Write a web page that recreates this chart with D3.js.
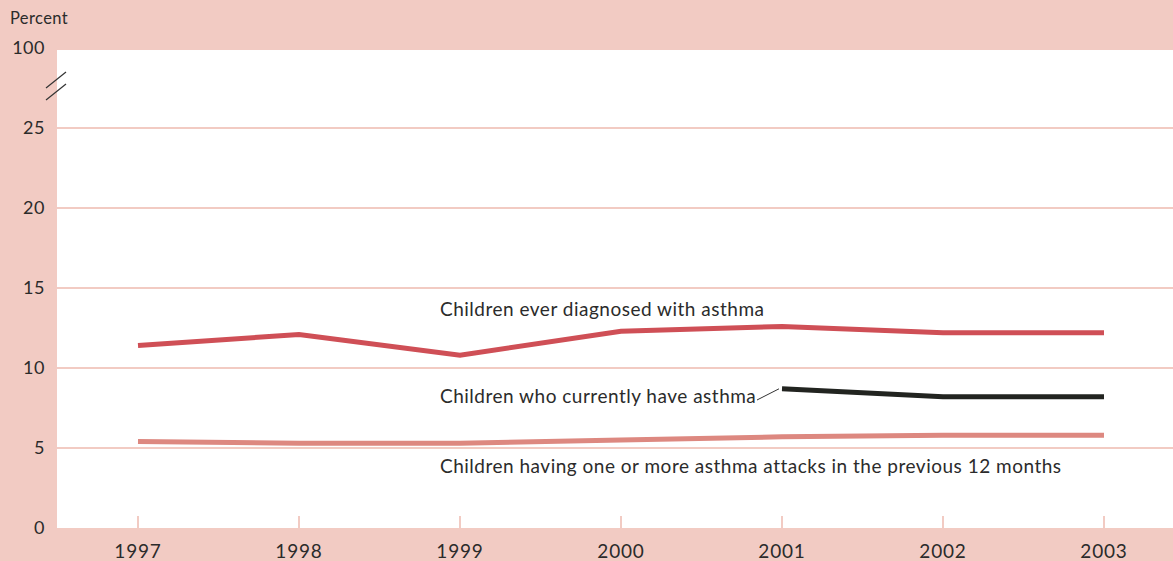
<!DOCTYPE html>
<html>
<head>
<meta charset="utf-8">
<script src="https://cdn.jsdelivr.net/npm/d3@7"></script>
<style>
  body { margin: 0; background: #f2cbc3; }
  svg { display: block; font-family: "Lato", "Open Sans", sans-serif; }
</style>
</head>
<body>
<svg id="chart" width="1173" height="561"></svg>
<script>
// data
const years = [1997, 1998, 1999, 2000, 2001, 2002, 2003];
const everDiagnosed = [11.4, 12.1, 10.8, 12.3, 12.6, 12.2, 12.2];
const currentYears = [2001, 2002, 2003];
const currentAsthma = [8.7, 8.2, 8.2];
const attacks = [5.4, 5.3, 5.3, 5.5, 5.7, 5.8, 5.8];
const yTicks = [0, 5, 10, 15, 20, 25, 100];

const svg = d3.select("#chart");
const W = 1173, H = 561;
const plot = { left: 57, right: 1173, top: 50, bottom: 528 };

const bg = "#f2cbc3";
const textColor = "#2b2b2b";

// broken axis: 0-25 linear, then jump to 100 at top
const y = d3.scaleLinear()
    .domain([0, 25, 100])
    .range([plot.bottom, 128, 48]);

const x = d3.scalePoint()
    .domain(years)
    .range([138, 1104]);

svg.append("rect")
    .attr("width", W).attr("height", H)
    .attr("fill", bg);

svg.append("rect")
    .attr("x", plot.left).attr("y", plot.top)
    .attr("width", plot.right - plot.left)
    .attr("height", plot.bottom - plot.top)
    .attr("fill", "#fff");

// gridlines
svg.append("g")
    .selectAll("line")
    .data(yTicks.filter(d => d > 0 && d <= 25))
    .join("line")
    .attr("x1", plot.left).attr("x2", plot.right)
    .attr("y1", d => y(d)).attr("y2", d => y(d))
    .attr("stroke", bg)
    .attr("stroke-width", 2);

// x tick marks
svg.append("g")
    .selectAll("line")
    .data(years)
    .join("line")
    .attr("x1", d => x(d)).attr("x2", d => x(d))
    .attr("y1", plot.bottom - 12).attr("y2", plot.bottom)
    .attr("stroke", bg)
    .attr("stroke-width", 2);

// y labels
svg.append("g")
    .selectAll("text")
    .data(yTicks)
    .join("text")
    .attr("x", 45)
    .attr("y", d => y(d) + 6)
    .attr("text-anchor", "end")
    .attr("font-size", 18)
    .attr("letter-spacing", 0.5)
    .attr("fill", textColor)
    .text(d => d);

svg.append("text")
    .attr("x", 10).attr("y", 24)
    .attr("font-size", 16.5)
    .attr("letter-spacing", 0.4)
    .attr("fill", textColor)
    .text("Percent");

// axis break mark
svg.append("g")
    .selectAll("line")
    .data([0, 12])
    .join("line")
    .attr("x1", 46).attr("y1", d => 88 + d)
    .attr("x2", 66).attr("y2", d => 72 + d)
    .attr("stroke", "#333")
    .attr("stroke-width", 1.3);

// x labels
svg.append("g")
    .selectAll("text")
    .data(years)
    .join("text")
    .attr("x", d => x(d))
    .attr("y", 558)
    .attr("text-anchor", "middle")
    .attr("font-size", 19)
    .attr("letter-spacing", 0.8)
    .attr("fill", textColor)
    .text(d => d);

const line = d3.line()
    .x(d => x(d[0]))
    .y(d => y(d[1]));

svg.append("path")
    .datum(d3.zip(years, attacks))
    .attr("d", line)
    .attr("fill", "none")
    .attr("stroke", "#dd8880")
    .attr("stroke-width", 5);

svg.append("path")
    .datum(d3.zip(years, everDiagnosed))
    .attr("d", line)
    .attr("fill", "none")
    .attr("stroke", "#cf4f56")
    .attr("stroke-width", 5);

svg.append("path")
    .datum(d3.zip(currentYears, currentAsthma))
    .attr("d", line)
    .attr("fill", "none")
    .attr("stroke", "#222420")
    .attr("stroke-width", 5);

// labels
const labels = [
    { text: "Children ever diagnosed with asthma", x: 440, y: 316 },
    { text: "Children who currently have asthma", x: 440, y: 403 },
    { text: "Children having one or more asthma attacks in the previous 12 months", x: 440, y: 473 }
];
svg.append("g")
    .selectAll("text")
    .data(labels)
    .join("text")
    .attr("x", d => d.x)
    .attr("y", d => d.y)
    .attr("font-size", 19)
    .attr("letter-spacing", 0.5)
    .attr("fill", textColor)
    .text(d => d.text);

// leader for current asthma label
svg.append("line")
    .attr("x1", 757).attr("y1", 400)
    .attr("x2", x(2001) - 3).attr("y2", y(currentAsthma[0]))
    .attr("stroke", "#333")
    .attr("stroke-width", 1);
</script>
</body>
</html>
